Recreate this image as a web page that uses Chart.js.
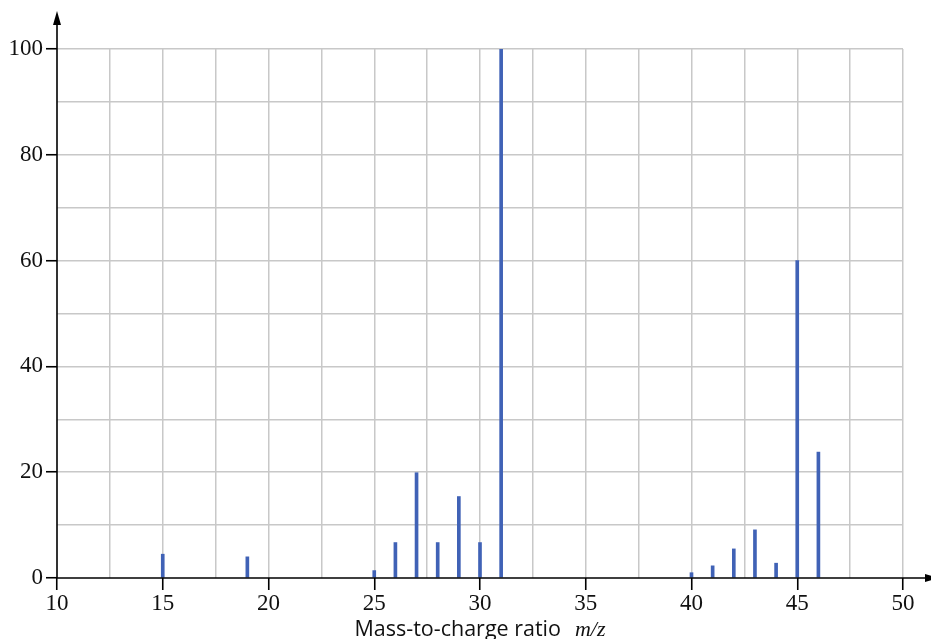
<!DOCTYPE html>
<html>
<head>
<meta charset="utf-8">
<title>Mass spectrum</title>
<script src="https://cdn.jsdelivr.net/npm/chart.js@4"></script>
<style>
  html, body { margin: 0; padding: 0; background: #fff; }
  canvas { display: block; }
</style>
</head>
<body>
<canvas id="spectrum" width="931" height="639"></canvas>
<script>
  // m/z peaks and their relative intensities (%)
  const massToCharge = [15, 19, 25, 26, 27, 28, 29, 30, 31, 40, 41, 42, 43, 44, 45, 46];
  const intensity = [4.5, 4.0, 1.4, 6.7, 19.9, 6.7, 15.4, 6.7, 100, 1.0, 2.3, 5.5, 9.1, 2.8, 60, 23.8];

  // axis ranges and label steps
  const xRange = [10, 50];
  const xGridStep = 2.5;
  const xLabelStep = 5;
  const yRange = [0, 100];
  const yGridStep = 10;
  const yLabelStep = 20;

  const tickFont = { family: '"Liberation Serif", "Times New Roman", serif', size: 23 };

  // axes with arrow heads plus the mixed-font axis title
  const axesPlugin = {
    id: 'axesArrows',
    afterDraw(chart) {
      const c = chart.ctx;
      const xs = chart.scales.x, ys = chart.scales.y;
      const x0 = xs.getPixelForValue(xRange[0]);
      const y0 = ys.getPixelForValue(yRange[0]);
      c.save();
      c.strokeStyle = '#000';
      c.fillStyle = '#000';
      c.lineWidth = 1.6;
      c.beginPath();
      c.moveTo(x0, y0);
      c.lineTo(x0, 20);
      c.moveTo(x0, y0);
      c.lineTo(926, y0);
      c.stroke();
      // arrow heads
      c.beginPath();
      c.moveTo(x0, 11);
      c.lineTo(x0 - 4, 25);
      c.lineTo(x0 + 4, 25);
      c.closePath();
      c.fill();
      c.beginPath();
      c.moveTo(938, y0);
      c.lineTo(925, y0 - 4);
      c.lineTo(925, y0 + 4);
      c.closePath();
      c.fill();

      // "Mass-to-charge ratio  m/z"
      const part1 = 'Mass-to-charge ratio';
      const part2 = 'm/z';
      const gap = 14;
      const f1 = '21.5px "Open Sans", sans-serif';
      const f2 = 'italic 22px "Liberation Serif", serif';
      c.font = f1;
      const w1 = c.measureText(part1).width;
      c.font = f2;
      const w2 = c.measureText(part2).width;
      const cx = (chart.chartArea.left + chart.chartArea.right) / 2;
      const start = cx - (w1 + gap + w2) / 2;
      c.textBaseline = 'alphabetic';
      c.textAlign = 'left';
      c.fillStyle = '#111';
      c.font = f1;
      c.fillText(part1, start, 636);
      c.font = f2;
      c.fillText(part2, start + w1 + gap, 636);
      c.restore();
    }
  };

  const ctx = document.getElementById('spectrum').getContext('2d');
  const chart = new Chart(ctx, {
    type: 'bar',
    data: {
      datasets: [{
        data: massToCharge.map((m, i) => ({ x: m, y: intensity[i] })),
        backgroundColor: '#4062b6',
        borderWidth: 0,
        barThickness: 3
      }]
    },
    options: {
      responsive: false,
      animation: false,
      layout: { padding: { top: 49, right: 28, left: 0, bottom: 0 } },
      plugins: {
        legend: { display: false },
        tooltip: { enabled: false }
      },
      scales: {
        x: {
          type: 'linear',
          min: xRange[0],
          max: xRange[1],
          offset: false,
          afterFit(scale) { scale.height = 61; },
          border: { display: false },
          grid: {
            offset: false,
            color: c => c.tick && c.tick.value === xRange[0] ? 'rgba(0,0,0,0)' : '#c8c8c8',
            lineWidth: 1.5,
            tickLength: 12,
            tickWidth: 1.6,
            tickColor: c => c.tick && c.tick.value % xLabelStep === 0 ? '#000' : 'rgba(0,0,0,0)'
          },
          ticks: {
            stepSize: xGridStep,
            autoSkip: false,
            maxRotation: 0,
            padding: 0,
            color: '#111',
            font: tickFont,
            callback: v => v % xLabelStep === 0 ? String(v) : ''
          }
        },
        y: {
          min: yRange[0],
          max: yRange[1],
          afterFit(scale) { scale.width = 57; },
          border: { display: false },
          grid: {
            color: c => c.tick && c.tick.value === yRange[0] ? 'rgba(0,0,0,0)' : '#c8c8c8',
            lineWidth: 1.5,
            tickLength: 11,
            tickWidth: 1.6,
            tickColor: c => c.tick && c.tick.value % yLabelStep === 0 ? '#000' : 'rgba(0,0,0,0)'
          },
          ticks: {
            stepSize: yGridStep,
            autoSkip: false,
            padding: 3,
            color: '#111',
            font: tickFont,
            callback: v => v % yLabelStep === 0 ? String(v) : ''
          }
        }
      }
    },
    plugins: [axesPlugin]
  });
</script>
</body>
</html>
